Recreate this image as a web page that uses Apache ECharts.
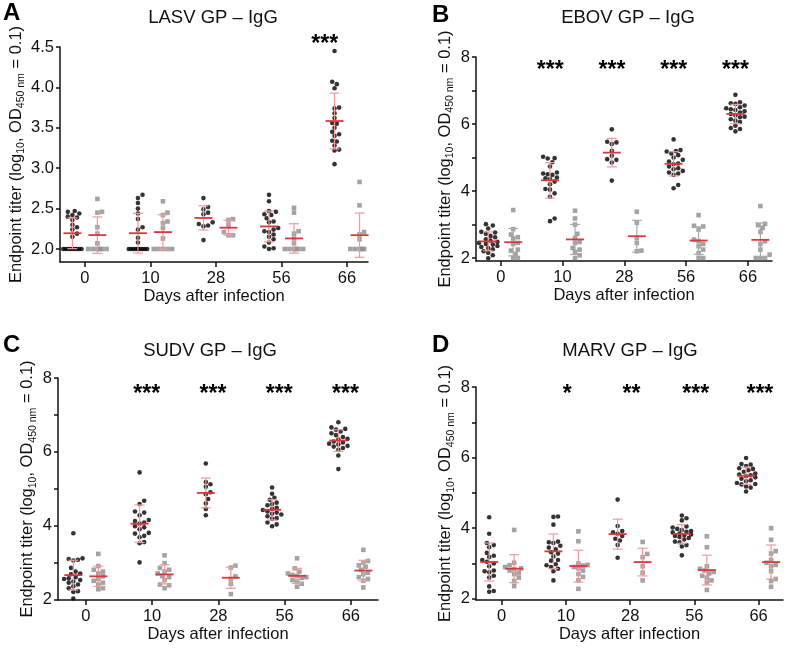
<!DOCTYPE html>
<html>
<head>
<meta charset="utf-8">
<title>Endpoint titers after infection</title>
<script src="https://cdn.jsdelivr.net/npm/echarts@6/dist/echarts.min.js"></script>
<style>
  html, body { margin: 0; padding: 0; background: #fff; }
  #chart { width: 792px; height: 652px; }
</style>
</head>
<body>
<div id="chart"></div>
<script>
var days = ['0', '10', '28', '56', '66'];

// one array per day, infected animals (black dots)
var lasvInfected = [
    [2.47, 2.46, 2.44, 2.42, 2.40, 2.39, 2.36, 2.30, 2.27, 2.24, 2.19, 2.15, 2, 2, 2, 2, 2, 2, 2, 2, 2],
    [2.67, 2.63, 2.57, 2.50, 2.44, 2.37, 2.27, 2.24, 2.14, 2.08, 2, 2, 2, 2, 2, 2, 2, 2, 2, 2],
    [2.63, 2.52, 2.49, 2.45, 2.43, 2.33, 2.31, 2.29, 2.28, 2.11],
    [2.67, 2.59, 2.47, 2.46, 2.43, 2.42, 2.38, 2.34, 2.33, 2.26, 2.24, 2.22, 2.21, 2.18, 2.15, 2.12, 2.08, 2.03, 2.01, 2.0],
    [4.45, 4.07, 4.04, 3.99, 3.75, 3.74, 3.68, 3.62, 3.56, 3.55, 3.50, 3.45, 3.42, 3.40, 3.34, 3.33, 3.28, 3.23, 3.22, 3.05]
];
// controls (gray squares)
var lasvControl = [
    [2.62, 2.46, 2.45, 2.27, 2.19, 2.07, 2, 2, 2, 2, 2, 2],
    [2.59, 2.45, 2.42, 2.34, 2.32, 2.26, 2.13, 2, 2, 2, 2, 2],
    [2.37, 2.36, 2.30, 2.21, 2.17, 2.17],
    [2.51, 2.45, 2.22, 2.19, 2.13, 2.07, 2, 2, 2, 2, 2, 2],
    [2.83, 2.54, 2.21, 2.18, 2.12, 2, 2, 2, 2, 2, 2]
];
var lasvStars = ['', '', '', '', '***'];

var ebovInfected = [
    [3.01, 2.97, 2.88, 2.78, 2.76, 2.72, 2.66, 2.62, 2.56, 2.52, 2.48, 2.45, 2.42, 2.40, 2.36, 2.33, 2.30, 2.26, 2.20, 2.16, 2.08, 1.99],
    [5.02, 4.98, 4.97, 4.86, 4.73, 4.52, 4.50, 4.55, 4.48, 4.40, 4.38, 4.36, 4.28, 4.20, 4.06, 4.04, 3.93, 3.83, 3.18, 3.10],
    [5.84, 5.47, 5.45, 5.40, 5.20, 5.05, 4.95, 4.93, 4.85, 4.31],
    [5.54, 5.22, 5.19, 5.18, 5.12, 5.07, 5.00, 4.93, 4.88, 4.82, 4.80, 4.73, 4.68, 4.65, 4.60, 4.55, 4.52, 4.48, 4.18, 4.08],
    [6.87, 6.65, 6.62, 6.60, 6.55, 6.50, 6.47, 6.44, 6.42, 6.38, 6.34, 6.30, 6.26, 6.22, 6.20, 6.14, 6.10, 6.06, 5.95, 5.88, 5.85, 5.78]
];
var ebovControl = [
    [3.43, 2.86, 2.70, 2.62, 2.58, 2.45, 2.42, 2.25, 2.22, 2.12, 2.0, 2.0],
    [3.41, 3.18, 3.00, 2.72, 2.60, 2.48, 2.45, 2.30, 2.25, 2.18, 2.08, 2.0],
    [3.38, 3.05, 2.60, 2.45, 2.22, 2.20],
    [3.28, 2.96, 2.94, 2.85, 2.55, 2.50, 2.42, 2.35, 2.25, 2.15, 2.0, 2.0],
    [3.55, 3.02, 2.98, 2.90, 2.78, 2.50, 2.42, 2.25, 2.10, 2.0, 2.0, 2.0]
];
var ebovStars = ['', '***', '***', '***', '***'];

var sudvInfected = [
    [3.79, 3.11, 3.09, 3.07, 3.05, 2.85, 2.75, 2.70, 2.68, 2.60, 2.57, 2.55, 2.52, 2.48, 2.45, 2.40, 2.35, 2.30, 2.22, 2.20, 2.02],
    [5.44, 4.67, 4.58, 4.38, 4.35, 4.28, 4.15, 4.12, 4.08, 4.05, 3.98, 3.95, 3.90, 3.80, 3.78, 3.72, 3.68, 3.55, 3.52, 3.00],
    [5.68, 5.18, 5.12, 5.05, 4.90, 4.85, 4.72, 4.60, 4.45, 4.28],
    [5.03, 4.86, 4.75, 4.70, 4.62, 4.58, 4.55, 4.48, 4.45, 4.42, 4.38, 4.35, 4.32, 4.30, 4.25, 4.20, 4.18, 4.08, 4.03, 3.98],
    [6.80, 6.66, 6.62, 6.60, 6.55, 6.50, 6.45, 6.40, 6.35, 6.33, 6.28, 6.25, 6.22, 6.20, 6.16, 6.14, 6.10, 6.05, 5.90, 5.53]
];
var sudvControl = [
    [3.23, 2.90, 2.80, 2.75, 2.70, 2.62, 2.55, 2.50, 2.45, 2.40, 2.30, 2.27],
    [3.19, 2.98, 2.85, 2.80, 2.75, 2.70, 2.63, 2.60, 2.52, 2.40, 2.38, 2.30],
    [2.91, 2.86, 2.62, 2.55, 2.42, 2.14],
    [3.11, 2.84, 2.75, 2.70, 2.66, 2.63, 2.60, 2.58, 2.52, 2.48, 2.42, 2.34],
    [3.34, 3.04, 3.00, 2.92, 2.88, 2.80, 2.72, 2.68, 2.60, 2.55, 2.50, 2.32]
];
var sudvStars = ['', '***', '***', '***', '***'];

var marvInfected = [
    [4.31, 3.84, 3.58, 3.52, 3.46, 3.30, 3.22, 3.18, 3.10, 3.05, 3.00, 2.92, 2.80, 2.78, 2.75, 2.65, 2.60, 2.35, 2.22, 2.20],
    [4.33, 4.32, 4.10, 3.62, 3.60, 3.58, 3.50, 3.45, 3.40, 3.32, 3.28, 3.20, 3.10, 3.08, 2.98, 2.95, 2.90, 2.85, 2.78, 2.52],
    [4.81, 4.06, 3.92, 3.88, 3.84, 3.78, 3.70, 3.65, 3.52, 3.16],
    [4.36, 4.28, 4.22, 4.05, 4.02, 3.98, 3.95, 3.92, 3.90, 3.88, 3.85, 3.82, 3.80, 3.78, 3.75, 3.72, 3.68, 3.62, 3.60, 3.52, 3.48, 3.23],
    [5.99, 5.82, 5.80, 5.76, 5.70, 5.68, 5.64, 5.60, 5.55, 5.52, 5.50, 5.47, 5.44, 5.40, 5.36, 5.33, 5.28, 5.25, 5.24, 5.18, 5.15, 5.04]
];
var marvControl = [
    [3.95, 3.02, 2.95, 2.90, 2.86, 2.84, 2.80, 2.74, 2.70, 2.60, 2.50, 2.36],
    [3.91, 3.63, 3.00, 2.96, 2.94, 2.90, 2.86, 2.80, 2.70, 2.62, 2.52, 2.28],
    [3.61, 3.27, 3.18, 2.92, 2.74, 2.52],
    [3.77, 3.46, 2.92, 2.85, 2.80, 2.76, 2.72, 2.65, 2.60, 2.52, 2.46, 2.25],
    [4.00, 3.67, 3.35, 3.28, 3.10, 3.02, 2.96, 2.92, 2.78, 2.56, 2.50, 2.34]
];
var marvStars = ['', '*', '**', '***', '***'];

var FONT = '"Liberation Sans", Arial, Helvetica, sans-serif';
var RED = '#e0353a';
var PINK = '#f29a9a';
var GREY_BAR = '#ababab';
var DOT = 4.6;

var panels = [
    {letter: 'A', name: 'LASV GP – IgG', inf: lasvInfected, ctl: lasvControl, stars: lasvStars,
     grid: {left: 60, top: 47, width: 308, height: 215}, x: [-0.38, 4.32], y: [1.839, 4.5],
     yTicks: [2, 2.5, 3, 3.5, 4, 4.5], yLabels: [2, 2.5, 3, 3.5, 4, 4.5], dec: 1,
     ctlBar: PINK, starDx: -0.34, starY: 4.587, nameGap: 33,
     letterPos: [3, 1], titlePos: [213, 8]},
    {letter: 'B', name: 'EBOV GP – IgG', inf: ebovInfected, ctl: ebovControl, stars: ebovStars,
     grid: {left: 476, top: 57, width: 296, height: 204}, x: [-0.40, 4.39], y: [1.91, 8],
     yTicks: [2, 3, 4, 5, 6, 7, 8], yLabels: [2, 4, 6, 8], dec: 0,
     ctlBar: GREY_BAR, starDx: -0.2, starY: 7.73, nameGap: 20,
     letterPos: [432, 3], titlePos: [628, 8]},
    {letter: 'C', name: 'SUDV GP – IgG', inf: sudvInfected, ctl: sudvControl, stars: sudvStars,
     grid: {left: 58, top: 378, width: 320, height: 222}, x: [-0.42, 4.41], y: [1.98, 8],
     yTicks: [2, 3, 4, 5, 6, 7, 8], yLabels: [2, 4, 6, 8], dec: 0,
     ctlBar: PINK, starDx: -0.08, starY: 7.68, nameGap: 18,
     letterPos: [3, 333], titlePos: [210, 341]},
    {letter: 'D', name: 'MARV GP – IgG', inf: marvInfected, ctl: marvControl, stars: marvStars,
     grid: {left: 476, top: 387, width: 307, height: 213}, x: [-0.40, 4.38], y: [1.965, 8],
     yTicks: [2, 3, 4, 5, 6, 7, 8], yLabels: [2, 4, 6, 8], dec: 0,
     ctlBar: PINK, starDx: 0.02, starY: 7.93, nameGap: 19,
     letterPos: [432, 333], titlePos: [630, 341]}
];

function mean(a) {
    var s = 0;
    a.forEach(function (v) { s += v; });
    return s / a.length;
}
function sd(a) {
    var m = mean(a), s = 0;
    a.forEach(function (v) { s += (v - m) * (v - m); });
    return Math.sqrt(s / (a.length - 1));
}

// simple beeswarm: horizontal offsets in px so dots don't sit on each other
function swarm(vals, pxPerY, maxHalf) {
    var order = vals.map(function (v, i) { return i; });
    order.sort(function (a, b) { return vals[a] - vals[b]; });
    var cands = [0];
    for (var s = DOT / 2; s <= maxHalf + 0.01; s += DOT / 2) cands.push(s, -s);
    var placed = [], offs = [];
    order.forEach(function (i) {
        var y = vals[i] * pxPerY, best = 0, bestGap = -1;
        for (var c = 0; c < cands.length; c++) {
            var gap = Infinity;
            placed.forEach(function (p) {
                var d = Math.sqrt((p[0] - cands[c]) * (p[0] - cands[c]) + (p[1] - y) * (p[1] - y));
                if (d < gap) gap = d;
            });
            if (gap >= DOT) { best = cands[c]; break; }
            if (gap > bestGap) { best = cands[c]; bestGap = gap; }
        }
        placed.push([best, y]);
        offs[i] = best;
    });
    return offs;
}

function barRenderer(sdColor) {
    return function (params, api) {
        var x = api.value(0), m = api.value(1), s = api.value(2);
        var c = api.coord([x, m]);
        var top = api.coord([x, m + s])[1];
        var bot = api.coord([x, m - s])[1];
        var sdStyle = {stroke: sdColor, lineWidth: 1.2};
        return {
            type: 'group',
            children: [
                {type: 'line', shape: {x1: c[0], y1: top, x2: c[0], y2: bot}, style: sdStyle},
                {type: 'line', shape: {x1: c[0] - 5, y1: top, x2: c[0] + 5, y2: top}, style: sdStyle},
                {type: 'line', shape: {x1: c[0] - 5, y1: bot, x2: c[0] + 5, y2: bot}, style: sdStyle},
                {type: 'line', shape: {x1: c[0] - 9, y1: c[1], x2: c[0] + 9, y2: c[1]},
                 style: {stroke: RED, lineWidth: 1.8}}
            ]
        };
    };
}

var option = {
    animation: false,
    backgroundColor: '#fff',
    title: [], grid: [], xAxis: [], yAxis: [], series: []
};

panels.forEach(function (p, k) {
    option.title.push({
        text: p.letter, left: p.letterPos[0], top: p.letterPos[1], padding: 0,
        textStyle: {fontFamily: FONT, fontSize: 24, fontWeight: 'bold', color: '#000'}
    });
    option.title.push({
        text: p.name, left: p.titlePos[0], top: p.titlePos[1], textAlign: 'center', padding: 0,
        textStyle: {fontFamily: FONT, fontSize: 18.5, fontWeight: 'normal', color: '#111'}
    });
    option.grid.push(p.grid);
    option.xAxis.push({
        type: 'value', gridIndex: k, min: p.x[0], max: p.x[1],
        name: 'Days after infection', nameLocation: 'middle', nameGap: 23,
        nameTextStyle: {fontFamily: FONT, fontSize: 16.5, color: '#111'},
        axisLine: {onZero: false, lineStyle: {color: '#111', width: 1.5}},
        axisTick: {length: 5, lineStyle: {color: '#111', width: 1.5}, customValues: [0, 1, 2, 3, 4]},
        axisLabel: {
            customValues: [0, 1, 2, 3, 4], margin: 8,
            fontFamily: FONT, fontSize: 16.5, color: '#111',
            formatter: function (v) { return days[Math.round(v)]; }
        },
        splitLine: {show: false}
    });
    option.yAxis.push({
        type: 'value', gridIndex: k, min: p.y[0], max: p.y[1],
        name: 'Endpoint titer (log{s|10}, OD{s|450 nm} = 0.1)',
        nameLocation: 'middle', nameRotate: 90, nameGap: p.nameGap,
        nameTextStyle: {
            fontFamily: FONT, fontSize: 16.5, color: '#111', lineHeight: 22,
            rich: {s: {fontFamily: FONT, fontSize: 10.5, color: '#111', lineHeight: 12, verticalAlign: 'bottom'}}
        },
        axisLine: {onZero: false, lineStyle: {color: '#111', width: 1.5}},
        axisTick: {length: 4, lineStyle: {color: '#111', width: 1.5}, customValues: p.yTicks},
        axisLabel: {
            customValues: p.yLabels, margin: 6,
            fontFamily: FONT, fontSize: 16.5, color: '#111',
            formatter: function (v) { return v.toFixed(p.dec); }
        },
        splitLine: {show: false}
    });

    var pxX = p.grid.width / (p.x[1] - p.x[0]);
    var pxY = p.grid.height / (p.y[1] - p.y[0]);
    var shift = 12.5 / pxX;
    var infPts = [], ctlPts = [], infBars = [], ctlBars = [];
    days.forEach(function (d, i) {
        var offI = swarm(p.inf[i], pxY, 9.2);
        p.inf[i].forEach(function (v, j) { infPts.push([i - shift + offI[j] / pxX, v]); });
        var offC = swarm(p.ctl[i], pxY, 9.2);
        p.ctl[i].forEach(function (v, j) { ctlPts.push([i + shift + offC[j] / pxX, v]); });
        infBars.push([i - shift, mean(p.inf[i]), sd(p.inf[i])]);
        ctlBars.push([i + shift, mean(p.ctl[i]), sd(p.ctl[i])]);
    });

    var starData = [], starText = [];
    p.stars.forEach(function (s, i) {
        if (s) { starData.push([i + p.starDx, p.starY]); starText.push(s); }
    });

    option.series.push(
        {type: 'scatter', xAxisIndex: k, yAxisIndex: k, data: ctlPts, symbol: 'rect', symbolSize: 4.6,
         itemStyle: {color: '#8c8c8c'}, z: 2, silent: true},
        {type: 'scatter', xAxisIndex: k, yAxisIndex: k, data: infPts, symbol: 'circle', symbolSize: 4.6,
         itemStyle: {color: '#000'}, z: 3, silent: true},
        {type: 'custom', xAxisIndex: k, yAxisIndex: k, data: ctlBars, encode: {x: 0, y: 1},
         renderItem: barRenderer(p.ctlBar), z: 4, silent: true},
        {type: 'custom', xAxisIndex: k, yAxisIndex: k, data: infBars, encode: {x: 0, y: 1},
         renderItem: barRenderer(PINK), z: 4, silent: true},
        {type: 'custom', xAxisIndex: k, yAxisIndex: k, data: starData, encode: {x: 0, y: 1}, clip: false,
         z: 5, silent: true,
         renderItem: function (params, api) {
             var c = api.coord([api.value(0), api.value(1)]);
             return {type: 'text', x: c[0], y: c[1] + 5, style: {
                 text: starText[params.dataIndex], font: 'bold 23px ' + FONT,
                 fill: '#000', align: 'center', verticalAlign: 'middle'}};
         }}
    );
});

var chart = echarts.init(document.getElementById('chart'));
chart.setOption(option);
</script>
</body>
</html>
